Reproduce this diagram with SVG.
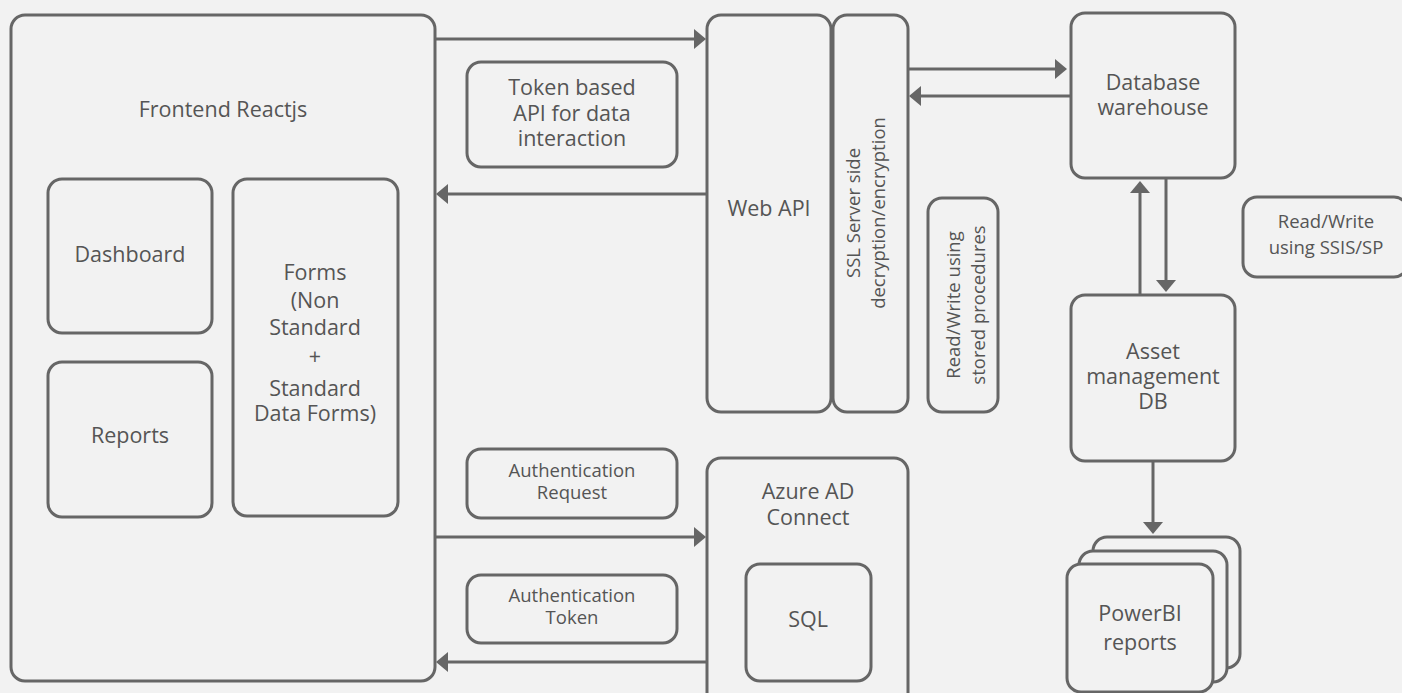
<svg xmlns="http://www.w3.org/2000/svg" width="1402" height="693" viewBox="0 0 1402 693">
<defs>
<style>
.box{fill:#f2f2f2;stroke:#666;stroke-width:3}
.t{font-family:"Open Sans","Noto Sans","Liberation Sans",sans-serif;font-size:21.5px;fill:#555;text-anchor:middle}
.s{font-size:18.5px}
.c{stroke:#666;stroke-width:3;fill:none}
</style>
<marker id="ah" viewBox="0 0 12 20" refX="1" refY="10" markerWidth="12" markerHeight="20" markerUnits="userSpaceOnUse" orient="auto">
<path d="M0,0 L12,10 L0,20 z" fill="#666"/>
</marker>
</defs>
<rect x="0" y="0" width="1402" height="693" fill="#f2f2f2"/>

<g id="frontend">
<rect class="box" x="11" y="15" width="424" height="666" rx="14"/>
<text class="t" x="223" y="117">Frontend Reactjs</text>
</g>
<g id="dashboard">
<rect class="box" x="48" y="179" width="164" height="154" rx="14"/>
<text class="t" x="130" y="262">Dashboard</text>
</g>
<g id="reports">
<rect class="box" x="48" y="362" width="164" height="155" rx="14"/>
<text class="t" x="130" y="443">Reports</text>
</g>
<g id="forms">
<rect class="box" x="233" y="179" width="165" height="337" rx="14"/>
<text class="t" x="315" y="280">Forms</text>
<text class="t" x="315" y="308">(Non</text>
<text class="t" x="315" y="335">Standard</text>
<text class="t" x="315" y="364">+</text>
<text class="t" x="315" y="396">Standard</text>
<text class="t" x="315" y="421">Data Forms)</text>
</g>

<g id="token-label">
<rect class="box" x="467" y="62" width="210" height="105" rx="14"/>
<text class="t" x="572" y="95">Token based</text>
<text class="t" x="572" y="121">API for data</text>
<text class="t" x="572" y="146">interaction</text>
</g>

<g id="webapi">
<rect class="box" x="707" y="15" width="124" height="397" rx="14"/>
<text class="t" x="769" y="216">Web API</text>
</g>
<g id="ssl">
<rect class="box" x="833" y="15" width="75" height="397" rx="14"/>
<text class="t s" transform="translate(860,213) rotate(-90)">SSL Server side</text>
<text class="t s" transform="translate(885,213) rotate(-90)">decryption/encryption</text>
</g>

<g id="rw-sp">
<rect class="box" x="928" y="198" width="70" height="214" rx="14"/>
<text class="t s" transform="translate(960,305) rotate(-90)">Read/Write using</text>
<text class="t s" transform="translate(985,305) rotate(-90)">stored procedures</text>
</g>

<g id="dbwarehouse">
<rect class="box" x="1071" y="13" width="164" height="165" rx="14"/>
<text class="t" x="1153" y="90">Database</text>
<text class="t" x="1153" y="115">warehouse</text>
</g>

<g id="rw-ssis">
<rect class="box" x="1243" y="197" width="165" height="80" rx="14"/>
<text class="t s" x="1326" y="228">Read/Write</text>
<text class="t s" x="1326" y="254">using SSIS/SP</text>
</g>

<g id="assetdb">
<rect class="box" x="1071" y="295" width="164" height="166" rx="14"/>
<text class="t" x="1153" y="359">Asset</text>
<text class="t" x="1153" y="384">management</text>
<text class="t" x="1153" y="409">DB</text>
</g>

<g id="powerbi">
<rect class="box" x="1093" y="537" width="147" height="131" rx="14"/>
<rect class="box" x="1079" y="551" width="148" height="131" rx="14"/>
<rect class="box" x="1067" y="564" width="146" height="128" rx="14"/>
<text class="t" x="1140" y="621">PowerBI</text>
<text class="t" x="1140" y="650">reports</text>
</g>

<g id="auth-request">
<rect class="box" x="467" y="449" width="210" height="69" rx="14"/>
<text class="t s" x="572" y="477">Authentication</text>
<text class="t s" x="572" y="499">Request</text>
</g>
<g id="auth-token">
<rect class="box" x="467" y="575" width="210" height="68" rx="14"/>
<text class="t s" x="572" y="602">Authentication</text>
<text class="t s" x="572" y="624">Token</text>
</g>

<g id="azure">
<rect class="box" x="707" y="458" width="201" height="250" rx="14"/>
<text class="t" x="808" y="499">Azure AD</text>
<text class="t" x="808" y="525">Connect</text>
</g>
<g id="sql">
<rect class="box" x="746" y="564" width="125" height="117" rx="14"/>
<text class="t" x="808" y="627">SQL</text>
</g>

<g id="connectors">
<line class="c" x1="435" y1="39" x2="695" y2="39" marker-end="url(#ah)"/>
<line class="c" x1="707" y1="194" x2="447" y2="194" marker-end="url(#ah)"/>
<line class="c" x1="908" y1="69" x2="1056" y2="69" marker-end="url(#ah)"/>
<line class="c" x1="1071" y1="96" x2="920" y2="96" marker-end="url(#ah)"/>
<line class="c" x1="1140" y1="295" x2="1140" y2="192" marker-end="url(#ah)"/>
<line class="c" x1="1166" y1="178" x2="1166" y2="281" marker-end="url(#ah)"/>
<line class="c" x1="1153" y1="461" x2="1153" y2="523" marker-end="url(#ah)"/>
<line class="c" x1="435" y1="537" x2="695" y2="537" marker-end="url(#ah)"/>
<line class="c" x1="707" y1="662" x2="447" y2="662" marker-end="url(#ah)"/>
</g>
</svg>
